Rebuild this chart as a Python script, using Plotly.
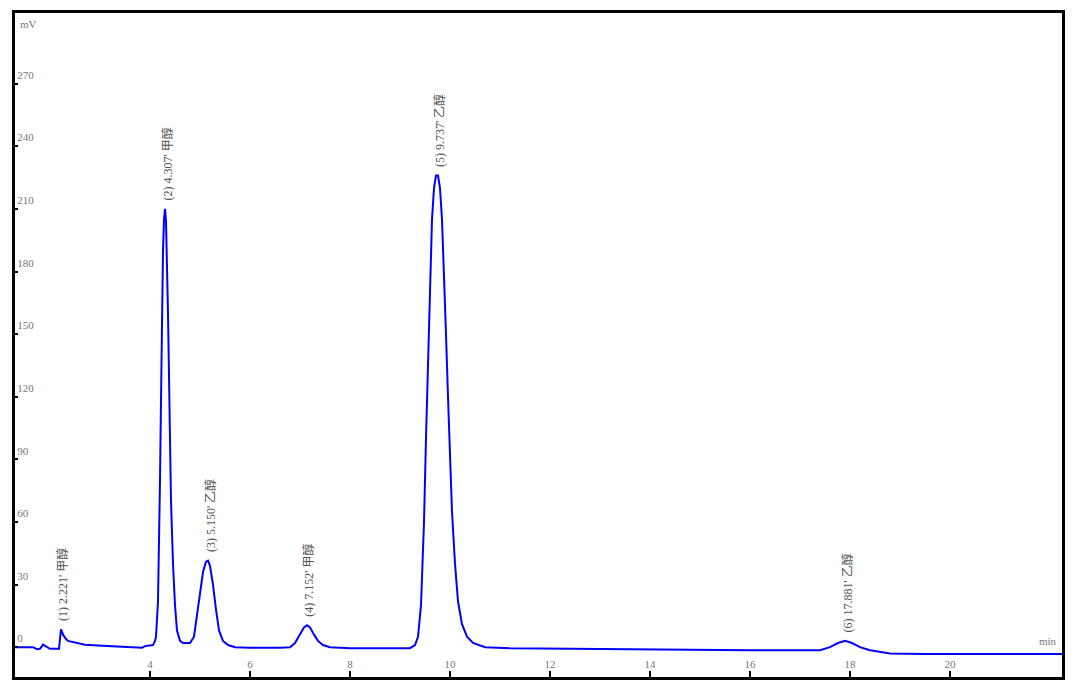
import plotly.graph_objects as go

# chromatogram trace (retention time in min, signal in mV)
time_min = [1.30, 1.66, 1.74, 1.80, 1.86, 1.92, 2.00, 2.18, 2.20, 2.22, 2.26, 2.30, 2.36, 2.54, 2.70,
            3.24, 3.84, 3.90, 4.06, 4.10, 4.12, 4.16, 4.18, 4.20, 4.22, 4.24, 4.26, 4.28, 4.30,
            4.32, 4.34, 4.36, 4.38, 4.40, 4.42, 4.46, 4.50, 4.54, 4.60, 4.66, 4.80, 4.88, 4.94,
            5.00, 5.06, 5.12, 5.16, 5.20, 5.26, 5.32, 5.38, 5.46, 5.56, 5.70, 6.00, 6.60, 6.80,
            6.90, 7.00, 7.08, 7.14, 7.20, 7.28, 7.36, 7.46, 7.60, 8.00, 9.20, 9.30, 9.36, 9.42,
            9.48, 9.52, 9.56, 9.60, 9.64, 9.68, 9.72, 9.76, 9.80, 9.84, 9.88, 9.92, 9.96, 10.00,
            10.04, 10.10, 10.16, 10.24, 10.34, 10.46, 10.70, 11.20, 13.00, 16.00, 17.40, 17.60,
            17.76, 17.90, 18.04, 18.20, 18.40, 18.80, 19.50, 22.24]
signal_mv = [0.0, 0.0, -1.0, -0.8, 1.2, 0.5, -0.8, -0.8, 6.0, 8.5, 6.0, 4.5, 3.0, 2.0, 1.2,
             0.4, -0.3, 0.5, 1.0, 3.0, 5.0, 22.0, 45.0, 80.0, 118.0, 160.0, 190.0, 205.0, 210.0,
             204.0, 185.0, 160.0, 130.0, 100.0, 70.0, 40.0, 20.0, 8.0, 3.0, 2.0, 2.0, 5.0, 15.0,
             25.0, 36.0, 41.0, 41.5, 39.0, 30.0, 18.0, 8.0, 3.0, 1.0, 0.0, -0.3, -0.3, 0.0,
             2.0, 6.0, 9.5, 10.5, 9.5, 6.0, 3.0, 1.0, 0.0, -0.5, -0.5, 1.0, 5.0, 20.0,
             60.0, 100.0, 140.0, 175.0, 205.0, 220.0, 226.0, 226.0, 220.0, 205.0, 180.0, 150.0, 120.0, 90.0,
             65.0, 40.0, 22.0, 11.0, 5.0, 2.0, 0.0, -0.5, -1.0, -1.5, -1.5, 0.0,
             2.0, 3.0, 2.0, 0.0, -1.5, -3.0, -3.3, -3.3]

# peak labels
peak_time = [2.22, 4.30, 5.16, 7.14, 9.74, 17.90]
peak_height = [8.5, 210.0, 41.5, 10.5, 226.0, 3.0]
peak_text = ["(1) 2.221' 甲醇", "(2) 4.307' 甲醇", "(3) 5.150' 乙醇",
             "(4) 7.152' 甲醇", "(5) 9.737' 乙醇", "(6) 17.881' 乙醇"]

x_ticks = [4, 6, 8, 10, 12, 14, 16, 18, 20]
y_ticks = [0, 30, 60, 90, 120, 150, 180, 210, 240, 270]

fig = go.Figure()
fig.add_trace(go.Scatter(x=time_min, y=signal_mv, mode="lines",
                         line=dict(color="#0000ff", width=2), showlegend=False))

for t, h, s in zip(peak_time, peak_height, peak_text):
    fig.add_annotation(x=t, y=h, text=s, textangle=-90, showarrow=False,
                       xanchor="center", yanchor="bottom", yshift=6, xshift=2,
                       font=dict(family="Liberation Serif, Noto Sans CJK SC", size=12, color="#555555"))

fig.add_annotation(x=0.003, y=0.995, xref="paper", yref="paper", text="mV", showarrow=False,
                   xanchor="left", yanchor="top",
                   font=dict(family="Liberation Serif", size=11, color="#777777"))
fig.add_annotation(x=0.997, y=-1.0, xref="paper", yref="y", text="min", showarrow=False,
                   xanchor="right", yanchor="bottom",
                   font=dict(family="Liberation Serif", size=11, color="#777777"))

fig.update_layout(
    width=1062, height=674,
    margin=dict(l=7, r=8, t=2, b=5),
    paper_bgcolor="white", plot_bgcolor="white",
    xaxis=dict(range=[1.3, 22.24], tickvals=x_ticks, ticks="inside", ticklen=6, tickwidth=2,
               tickcolor="black", ticklabelposition="inside", showgrid=False, zeroline=False,
               showline=True, linecolor="black", linewidth=3, mirror=True,
               tickfont=dict(family="Liberation Serif", size=11, color="#777777")),
    yaxis=dict(range=[-14.3, 303.9], tickvals=y_ticks, ticks="inside", ticklen=3, tickwidth=2,
               tickcolor="black", ticklabelposition="inside top", showgrid=False, zeroline=False,
               showline=True, linecolor="black", linewidth=3, mirror=True,
               tickfont=dict(family="Liberation Serif", size=11, color="#777777")),
)

fig.write_html("out.html")
